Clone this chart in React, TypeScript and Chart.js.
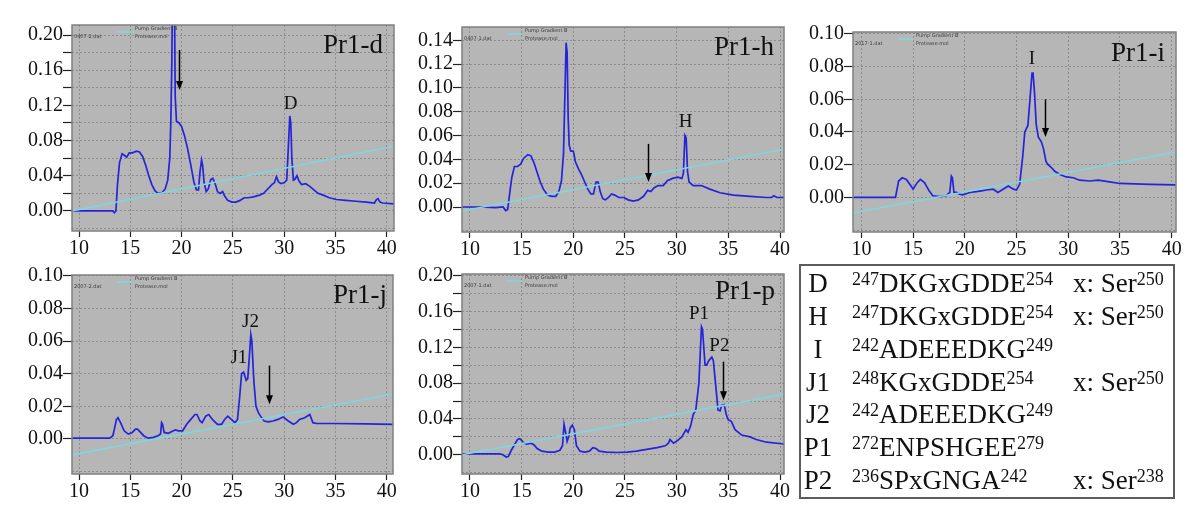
import React, { useEffect, useRef } from "react";
import { Chart, registerables } from "chart.js";

Chart.register(...registerables);

type Pt = [number, number];
type Peak = [string, number, number];

// ---------- shared axis data ----------
const timeTicks = [10, 15, 20, 25, 30, 35, 40];
const legendGradient = "Pump Gradient B";
const legendTrace = "Protease.mol";

// ---------- Pr1-d ----------
const pr1dTrace: Pt[] = [
  [9.3, 0], [13.3, 0], [13.45, -0.002], [13.6, 0.0], [13.75, 0.03], [13.95, 0.055], [14.2, 0.065],
  [14.45, 0.063], [14.65, 0.061], [14.9, 0.066], [15.2, 0.066], [15.6, 0.068], [15.9, 0.067],
  [16.2, 0.062], [16.5, 0.052], [16.8, 0.04], [17.1, 0.03], [17.4, 0.023], [17.7, 0.02],
  [18.1, 0.021], [18.4, 0.025], [18.65, 0.035], [18.85, 0.06], [18.95, 0.1], [19.05, 0.17],
  [19.12, 0.25], [19.3, 0.25], [19.38, 0.13], [19.5, 0.102], [19.75, 0.1], [20.0, 0.096],
  [20.3, 0.085], [20.6, 0.07], [20.9, 0.052], [21.2, 0.033], [21.45, 0.024], [21.65, 0.024],
  [21.8, 0.045], [21.95, 0.058], [22.05, 0.052], [22.2, 0.032], [22.4, 0.022], [22.6, 0.025],
  [22.85, 0.036], [23.05, 0.037], [23.3, 0.03], [23.5, 0.022], [23.75, 0.02], [24.0, 0.022],
  [24.2, 0.017], [24.5, 0.012], [24.9, 0.01], [25.3, 0.01], [25.7, 0.012], [26.1, 0.015],
  [26.5, 0.015], [27.0, 0.016], [27.6, 0.018], [28.0, 0.02], [28.4, 0.025], [28.8, 0.03],
  [29.05, 0.032], [29.25, 0.039], [29.45, 0.033], [29.7, 0.031], [30.0, 0.032], [30.25, 0.035],
  [30.4, 0.07], [30.55, 0.108], [30.65, 0.1], [30.75, 0.06], [30.9, 0.035], [31.05, 0.036],
  [31.25, 0.04], [31.45, 0.034], [31.7, 0.03], [32.1, 0.031], [32.5, 0.028], [32.9, 0.024],
  [33.3, 0.02], [33.8, 0.018], [34.4, 0.015], [35.1, 0.013], [36.0, 0.012], [37.0, 0.011],
  [38.0, 0.01], [38.8, 0.009], [39.0, 0.013], [39.15, 0.014], [39.35, 0.01], [39.6, 0.009],
  [40.7, 0.008],
];
const pr1dGradient: Pt[] = [[9.32, 0], [40.71, 0.0736]];
const pr1dYTicks = [-0.02, 0, 0.02, 0.04, 0.06, 0.08, 0.1, 0.12, 0.14, 0.16, 0.18, 0.2];
const pr1dYLabels = [0, 0.04, 0.08, 0.12, 0.16, 0.2];
const pr1dPeaks: Peak[] = [["D", 30.64, 0.122]];
const pr1dArrow = [19.77, 0.183, 0.1375];

// ---------- Pr1-h ----------
const pr1hTrace: Pt[] = [
  [9.2, 0], [11, 0], [12.5, -0.0005], [13.2, 0], [13.45, -0.003], [13.65, -0.002], [13.85, 0.012],
  [14.05, 0.025], [14.3, 0.034], [14.6, 0.034], [14.9, 0.036], [15.2, 0.041], [15.6, 0.044],
  [15.9, 0.043], [16.2, 0.037], [16.5, 0.029], [16.8, 0.021], [17.1, 0.015], [17.5, 0.01],
  [17.9, 0.009], [18.3, 0.009], [18.6, 0.013], [18.85, 0.022], [19.05, 0.045], [19.2, 0.1],
  [19.3, 0.138], [19.4, 0.13], [19.5, 0.075], [19.6, 0.052], [19.75, 0.047], [20.0, 0.047],
  [20.2, 0.038], [20.5, 0.032], [20.8, 0.027], [21.1, 0.021], [21.4, 0.015], [21.7, 0.011],
  [21.95, 0.011], [22.2, 0.021], [22.4, 0.021], [22.6, 0.013], [22.85, 0.007], [23.1, 0.006],
  [23.4, 0.008], [23.7, 0.011], [24.0, 0.01], [24.4, 0.008], [24.9, 0.008], [25.3, 0.006],
  [25.8, 0.005], [26.3, 0.006], [26.8, 0.009], [27.2, 0.014], [27.5, 0.013], [27.8, 0.016],
  [28.2, 0.018], [28.7, 0.018], [29.1, 0.022], [29.6, 0.024], [30.1, 0.025], [30.5, 0.024],
  [30.65, 0.028], [30.8, 0.06], [30.92, 0.058], [31.05, 0.03], [31.2, 0.021], [31.6, 0.018],
  [32.4, 0.018], [33.2, 0.015], [34.2, 0.012], [35.5, 0.01], [37.1, 0.009], [38.7, 0.008],
  [39.2, 0.008], [39.4, 0.0095], [39.7, 0.008], [40.4, 0.008],
];
const pr1hGradient: Pt[] = [[9.23, -0.0034], [40.39, 0.0485]];
const pr1hYTicks = [-0.02, 0, 0.02, 0.04, 0.06, 0.08, 0.1, 0.12, 0.14];
const pr1hYLabels = [0, 0.02, 0.04, 0.06, 0.08, 0.1, 0.12, 0.14];
const pr1hPeaks: Peak[] = [["H", 30.87, 0.0714]];
const pr1hArrow = [27.25, 0.053, 0.021];

// ---------- Pr1-i ----------
const pr1iTrace: Pt[] = [
  [9.1, 0], [13.3, 0], [13.45, 0.005], [13.6, 0.01], [13.95, 0.012], [14.35, 0.011], [14.8, 0.007],
  [15.0, 0.005], [15.4, 0.009], [15.7, 0.011], [16.1, 0.009], [16.55, 0.004], [16.9, 0.001],
  [17.6, 0.0005], [18.2, 0.001], [18.55, 0.003], [18.7, 0.013], [18.8, 0.012], [18.95, 0.003],
  [19.2, 0.003], [19.5, 0.002], [19.8, 0.0015], [20.5, 0.003], [21.1, 0.0035], [21.6, 0.004],
  [22.1, 0.0045], [22.75, 0.005], [23.2, 0.003], [23.7, 0.005], [24.2, 0.007], [24.7, 0.005],
  [25.0, 0.0045], [25.3, 0.008], [25.6, 0.025], [25.8, 0.04], [26.1, 0.044], [26.3, 0.06],
  [26.5, 0.076], [26.6, 0.076], [26.75, 0.063], [26.9, 0.045], [27.1, 0.037], [27.4, 0.034],
  [27.6, 0.03], [27.85, 0.022], [28.05, 0.02], [28.4, 0.018], [28.7, 0.016], [29.2, 0.014],
  [29.8, 0.0125], [30.5, 0.012], [31.1, 0.0105], [32.1, 0.01], [32.9, 0.0105], [34.0, 0.0095],
  [35.0, 0.0085], [37.9, 0.008], [40.4, 0.0077],
];
const pr1iGradient: Pt[] = [[9.19, -0.0096], [40.42, 0.0278]];
const pr1iYTicks = [-0.02, 0, 0.02, 0.04, 0.06, 0.08, 0.1];
const pr1iYLabels = [0, 0.02, 0.04, 0.06, 0.08, 0.1];
const pr1iPeaks: Peak[] = [["I", 26.5, 0.0847]];
const pr1iArrow = [27.74, 0.06, 0.037];

// ---------- Pr1-j ----------
const pr1jTrace: Pt[] = [
  [9.3, 0.0005], [13.0, 0.0005], [13.3, 0.002], [13.45, 0.006], [13.65, 0.012], [13.8, 0.013],
  [14.05, 0.01], [14.4, 0.005], [14.8, 0.003], [15.2, 0.004], [15.5, 0.006], [15.7, 0.006],
  [16.0, 0.004], [16.3, 0.002], [16.75, 0.0005], [17.25, 0.001], [17.7, 0.002], [17.95, 0.003],
  [18.05, 0.01], [18.15, 0.009], [18.3, 0.004], [18.7, 0.0035], [19.2, 0.005], [19.4, 0.0055],
  [19.7, 0.005], [20.1, 0.005], [20.5, 0.009], [20.9, 0.012], [21.3, 0.015], [21.5, 0.015],
  [21.8, 0.011], [22.0, 0.01], [22.35, 0.014], [22.65, 0.015], [23.0, 0.012], [23.5, 0.009],
  [23.9, 0.009], [24.2, 0.012], [24.5, 0.014], [24.85, 0.012], [25.2, 0.01], [25.45, 0.012],
  [25.65, 0.025], [25.85, 0.04], [26.05, 0.041], [26.3, 0.036], [26.45, 0.037], [26.6, 0.05],
  [26.75, 0.064], [26.85, 0.06], [27.05, 0.035], [27.25, 0.02], [27.5, 0.016], [27.7, 0.014],
  [28.05, 0.011], [28.45, 0.0105], [28.9, 0.011], [29.4, 0.012], [29.9, 0.0135], [30.4, 0.011],
  [30.9, 0.009], [31.2, 0.01], [31.5, 0.012], [32.0, 0.013], [32.5, 0.015], [32.8, 0.01],
  [33.15, 0.0095], [34.8, 0.0095], [38.0, 0.0093], [40.6, 0.009],
];
const pr1jGradient: Pt[] = [[9.32, -0.0098], [40.61, 0.0276]];
const pr1jYTicks = [-0.02, 0, 0.02, 0.04, 0.06, 0.08, 0.1];
const pr1jYLabels = [0, 0.02, 0.04, 0.06, 0.08, 0.1];
const pr1jPeaks: Peak[] = [["J1", 25.58, 0.0497], ["J2", 26.72, 0.0716]];
const pr1jArrow = [28.5, 0.045, 0.0213];

// ---------- Pr1-p ----------
const pr1pTrace: Pt[] = [
  [9.2, 0.001], [12.9, 0.001], [13.2, 0], [13.5, -0.0025], [13.7, -0.002], [14.0, 0.005],
  [14.35, 0.012], [14.6, 0.017], [14.8, 0.018], [15.0, 0.016], [15.2, 0.013], [15.5, 0.012],
  [15.9, 0.013], [16.2, 0.011], [16.5, 0.007], [16.95, 0.004], [17.6, 0.003], [18.2, 0.003],
  [18.7, 0.005], [18.95, 0.01], [19.1, 0.034], [19.25, 0.025], [19.4, 0.015], [19.55, 0.02],
  [19.7, 0.03], [19.9, 0.033], [20.1, 0.028], [20.3, 0.01], [20.65, 0.004], [21.1, 0.003],
  [21.55, 0.004], [21.9, 0.008], [22.2, 0.007], [22.5, 0.004], [23.2, 0.003], [24.2, 0.0025],
  [25.2, 0.003], [26.1, 0.004], [27.1, 0.006], [28.1, 0.008], [28.9, 0.01], [29.2, 0.013],
  [29.35, 0.017], [29.7, 0.013], [30.1, 0.016], [30.5, 0.02], [30.9, 0.028], [31.1, 0.025],
  [31.35, 0.032], [31.6, 0.045], [31.85, 0.05], [32.15, 0.08], [32.4, 0.143], [32.5, 0.14],
  [32.75, 0.1], [32.9, 0.1], [33.1, 0.105], [33.4, 0.109], [33.55, 0.105], [33.8, 0.075],
  [34.0, 0.05], [34.2, 0.049], [34.35, 0.055], [34.6, 0.056], [34.8, 0.045], [35.0, 0.039],
  [35.3, 0.037], [35.65, 0.028], [36.3, 0.022], [37.1, 0.02], [37.7, 0.017], [38.7, 0.014],
  [40.4, 0.012],
];
const pr1pGradient: Pt[] = [[9.23, 0], [40.39, 0.0677]];
const pr1pYTicks = [-0.02, 0, 0.02, 0.04, 0.06, 0.08, 0.1, 0.12, 0.14, 0.16, 0.18, 0.2];
const pr1pYLabels = [0, 0.04, 0.08, 0.12, 0.16, 0.2];
const pr1pPeaks: Peak[] = [["P1", 32.16, 0.157], ["P2", 34.13, 0.121]];
const pr1pArrow = [34.5, 0.104, 0.061];

// ---------- table ----------
const tableLabels = ["D", "H", "I", "J1", "J2", "P1", "P2"];
const tableStart = [247, 247, 242, 248, 242, 272, 236];
const tableSeq = ["DKGxGDDE", "DKGxGDDE", "ADEEEDKG", "KGxGDDE", "ADEEEDKG", "ENPSHGEE", "SPxGNGA"];
const tableEnd = [254, 254, 249, 254, 249, 279, 242];
const tableSite: (number | null)[] = [250, 250, null, 250, null, null, 238];

// ---------- styles ----------
const SERIF = "'Liberation Serif', 'Times New Roman', serif";
const PLOT_BG = "rgb(182,182,182)";
const GRID = "rgba(120,120,120,0.65)";
const TRACE = "rgb(36,36,218)";
const GRAD = "rgb(128,214,224)";

interface PanelCfg {
  title: string;
  fileName: string;
  trace: Pt[];
  gradient: Pt[];
  yTicks: number[];
  yLabels: number[];
  peaks: Peak[];
  arrow: number[];
  xMin: number; xMax: number; yMin: number; yMax: number;
  left: number; top: number; width: number; height: number;
  axisW: number; axisH: number; padTop: number; padRight: number;
  titleDx: number; titleDy: number;
}

const panels: PanelCfg[] = [
  {
    title: "Pr1-d", fileName: "0407-2.dat", trace: pr1dTrace, gradient: pr1dGradient,
    yTicks: pr1dYTicks, yLabels: pr1dYLabels, peaks: pr1dPeaks, arrow: pr1dArrow,
    xMin: 9.317, xMax: 40.71, yMin: -0.0228, yMax: 0.2114,
    left: 0, top: 0, width: 400, height: 260, axisW: 72, axisH: 29, padTop: 25, padRight: 6,
    titleDx: 11, titleDy: 28,
  },
  {
    title: "Pr1-h", fileName: "0407-1.dat", trace: pr1hTrace, gradient: pr1hGradient,
    yTicks: pr1hYTicks, yLabels: pr1hYLabels, peaks: pr1hPeaks, arrow: pr1hArrow,
    xMin: 9.226, xMax: 40.387, yMin: -0.021, yMax: 0.1512,
    left: 400, top: 0, width: 400, height: 260, axisW: 62, axisH: 28, padTop: 27, padRight: 16,
    titleDx: 10, titleDy: 28,
  },
  {
    title: "Pr1-i", fileName: "2017-1.dat", trace: pr1iTrace, gradient: pr1iGradient,
    yTicks: pr1iYTicks, yLabels: pr1iYLabels, peaks: pr1iPeaks, arrow: pr1iArrow,
    xMin: 9.19, xMax: 40.42, yMin: -0.0212, yMax: 0.1012,
    left: 800, top: 0, width: 400, height: 260, axisW: 53, axisH: 28, padTop: 32, padRight: 24,
    titleDx: 11, titleDy: 29,
  },
  {
    title: "Pr1-j", fileName: "2007-2.dat", trace: pr1jTrace, gradient: pr1jGradient,
    yTicks: pr1jYTicks, yLabels: pr1jYLabels, peaks: pr1jPeaks, arrow: pr1jArrow,
    xMin: 9.317, xMax: 40.61, yMin: -0.0215, yMax: 0.1006,
    left: 0, top: 260, width: 400, height: 264, axisW: 72, axisH: 50, padTop: 15, padRight: 7,
    titleDx: 6, titleDy: 28,
  },
  {
    title: "Pr1-p", fileName: "2007-1.dat", trace: pr1pTrace, gradient: pr1pGradient,
    yTicks: pr1pYTicks, yLabels: pr1pYLabels, peaks: pr1pPeaks, arrow: pr1pArrow,
    xMin: 9.226, xMax: 40.387, yMin: -0.0215, yMax: 0.2019,
    left: 400, top: 260, width: 400, height: 264, axisW: 62, axisH: 50, padTop: 14, padRight: 16,
    titleDx: 9, titleDy: 25,
  },
];

const toXY = (pts: Pt[]) => pts.map(([x, y]) => ({ x, y }));

function Panel({ cfg }: { cfg: PanelCfg }) {
  const ref = useRef<HTMLCanvasElement>(null);
  useEffect(() => {
    const canvas = ref.current;
    if (!canvas) return;
    const deco = {
      id: "deco",
      beforeDraw(chart: any) {
        const { ctx, chartArea: a } = chart;
        ctx.save();
        ctx.fillStyle = PLOT_BG;
        ctx.fillRect(a.left, a.top, a.right - a.left, a.bottom - a.top);
        ctx.restore();
      },
      afterDraw(chart: any) {
        const { ctx, chartArea: a, scales } = chart;
        const xs = scales.x;
        const ys = scales.y;
        ctx.save();
        // plot frame
        ctx.strokeStyle = "rgb(128,128,128)";
        ctx.lineWidth = 1.5;
        ctx.strokeRect(a.left, a.top, a.right - a.left, a.bottom - a.top);
        // tiny instrument legend
        ctx.font = "5px 'DejaVu Sans', sans-serif";
        ctx.fillStyle = "#3a3a3a";
        ctx.textAlign = "left";
        ctx.textBaseline = "middle";
        ctx.fillText(cfg.fileName, a.left + 2, a.top + 12);
        ctx.fillText(legendGradient, a.left + 63, a.top + 4);
        ctx.fillText(legendTrace, a.left + 63, a.top + 12);
        ctx.strokeStyle = GRAD;
        ctx.lineWidth = 1.5;
        ctx.beginPath();
        ctx.moveTo(a.left + 45, a.top + 7);
        ctx.lineTo(a.left + 60, a.top + 7);
        ctx.stroke();
        // panel title
        ctx.fillStyle = "#111";
        ctx.font = `27px ${SERIF}`;
        ctx.textAlign = "right";
        ctx.textBaseline = "alphabetic";
        ctx.fillText(cfg.title, a.right - cfg.titleDx, a.top + cfg.titleDy);
        // peak labels
        ctx.font = `19px ${SERIF}`;
        ctx.textAlign = "center";
        ctx.textBaseline = "middle";
        cfg.peaks.forEach(([t, x, y]) => {
          ctx.fillText(t, xs.getPixelForValue(x), ys.getPixelForValue(y));
        });
        // arrow
        const [ax, ay1, ay2] = cfg.arrow;
        const px = Math.round(xs.getPixelForValue(ax)) + 0.5;
        const p1 = ys.getPixelForValue(ay1);
        const p2 = ys.getPixelForValue(ay2);
        ctx.strokeStyle = "#000";
        ctx.lineWidth = 1.5;
        ctx.beginPath();
        ctx.moveTo(px, p1);
        ctx.lineTo(px, p2 - 6);
        ctx.stroke();
        ctx.fillStyle = "#000";
        ctx.beginPath();
        ctx.moveTo(px - 3.5, p2 - 9);
        ctx.lineTo(px + 3.5, p2 - 9);
        ctx.lineTo(px, p2);
        ctx.closePath();
        ctx.fill();
        ctx.restore();
      },
    };
    const isLabel = (v: number) => cfg.yLabels.some((l) => Math.abs(l - v) < 1e-6);
    const chart = new Chart(canvas, {
      type: "line",
      data: {
        datasets: [
          {
            data: toXY(cfg.gradient),
            borderColor: GRAD,
            borderWidth: 1.6,
            pointRadius: 0,
            tension: 0,
          },
          {
            data: toXY(cfg.trace),
            borderColor: TRACE,
            borderWidth: 1.7,
            pointRadius: 0,
            tension: 0,
          },
        ],
      },
      options: {
        animation: false,
        responsive: false,
        devicePixelRatio: 1,
        events: [],
        layout: { padding: { top: cfg.padTop, right: cfg.padRight, left: 0, bottom: 0 } },
        plugins: { legend: { display: false }, tooltip: { enabled: false } },
        scales: {
          x: {
            type: "linear",
            min: cfg.xMin,
            max: cfg.xMax,
            afterBuildTicks: (s: any) => {
              s.ticks = timeTicks.map((v) => ({ value: v }));
            },
            afterFit: (s: any) => {
              s.height = cfg.axisH;
            },
            ticks: {
              autoSkip: false,
              maxRotation: 0,
              minRotation: 0,
              padding: 0,
              color: "#111",
              font: { family: SERIF, size: 20 },
              callback: (v: any) => String(v),
            },
            grid: {
              color: GRID,
              lineWidth: 1,
              tickColor: "#222",
              tickLength: 6,
              tickWidth: 1.2,
              tickBorderDash: [],
            },
            border: { display: false, dash: [2, 2] },
          },
          y: {
            type: "linear",
            min: cfg.yMin,
            max: cfg.yMax,
            afterBuildTicks: (s: any) => {
              s.ticks = cfg.yTicks.map((v) => ({ value: v }));
            },
            afterFit: (s: any) => {
              s.width = cfg.axisW;
            },
            ticks: {
              autoSkip: false,
              padding: 0,
              color: "#111",
              font: { family: SERIF, size: 20 },
              callback: (v: any) => (isLabel(Number(v)) ? Number(v).toFixed(2) : ""),
            },
            grid: {
              color: GRID,
              lineWidth: 1,
              tickColor: (c: any) => (c.tick && c.tick.value < -0.001 ? "rgba(0,0,0,0)" : "#222"),
              tickLength: 9,
              tickWidth: 1.2,
              tickBorderDash: [],
            },
            border: { display: false, dash: [2, 2] },
          },
        },
      } as any,
      plugins: [deco],
    });
    return () => chart.destroy();
  }, [cfg]);
  return (
    <canvas
      ref={ref}
      width={cfg.width}
      height={cfg.height}
      style={{ position: "absolute", left: cfg.left, top: cfg.top, width: cfg.width, height: cfg.height }}
    />
  );
}

const rowStyle: React.CSSProperties = {
  position: "absolute",
  height: 33,
  lineHeight: "33px",
  fontSize: 27,
  fontFamily: SERIF,
  whiteSpace: "nowrap",
  color: "#111",
};
const supStyle: React.CSSProperties = { fontSize: 18, verticalAlign: "7px", lineHeight: 0 };

function PeptideTable() {
  return (
    <>
      <div
        style={{
          position: "absolute",
          left: 799,
          top: 264,
          width: 376,
          height: 235,
          boxSizing: "border-box",
          border: "2px solid #5c5c5c",
          background: "#fff",
        }}
      />
      {tableLabels.map((lab, i) => {
        const top = 267.1 + i * 32.8;
        return (
          <React.Fragment key={lab}>
            <div style={{ ...rowStyle, top, left: 796, width: 44, textAlign: "center" }}>{lab}</div>
            <div style={{ ...rowStyle, top, left: 852 }}>
              <span style={supStyle}>{tableStart[i]}</span>
              {tableSeq[i]}
              <span style={supStyle}>{tableEnd[i]}</span>
            </div>
            {tableSite[i] != null && (
              <div style={{ ...rowStyle, top, left: 1073 }}>
                x: Ser<span style={supStyle}>{tableSite[i]}</span>
              </div>
            )}
          </React.Fragment>
        );
      })}
    </>
  );
}

export default function App() {
  return (
    <div
      style={{
        position: "absolute",
        left: 0,
        top: 0,
        width: 1200,
        height: 524,
        overflow: "hidden",
        background: "#fff",
      }}
    >
      {panels.map((p) => (
        <Panel key={p.title} cfg={p} />
      ))}
      <PeptideTable />
    </div>
  );
}
